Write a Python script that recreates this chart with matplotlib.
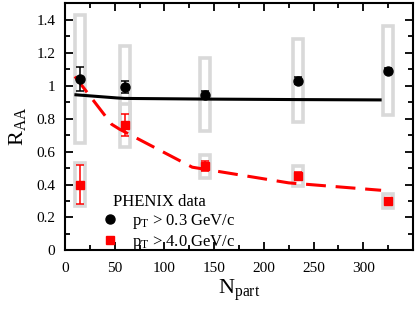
import matplotlib
matplotlib.use("Agg")
import matplotlib.pyplot as plt
from matplotlib.patches import Rectangle
from matplotlib.lines import Line2D
import numpy as np

plt.rcParams['font.family'] = ['Liberation Serif', 'DejaVu Serif']
plt.rcParams['mathtext.fontset'] = 'custom'
plt.rcParams['mathtext.rm'] = 'Liberation Serif'
plt.rcParams['mathtext.it'] = 'Liberation Serif:italic'

# --- data ---
npart = [15, 60, 141, 234, 325]
raa_low = [1.04, 0.99, 0.945, 1.03, 1.09]          # pT > 0.3 GeV/c
err_low = [0.07, 0.035, 0.02, 0.02, 0.015]
sys_low = [0.39, 0.25, 0.22, 0.25, 0.27]
raa_high = [0.40, 0.76, 0.51, 0.45, 0.30]          # pT > 4.0 GeV/c
err_high = [0.12, 0.065, 0.03, 0.025, 0.015]
sys_high = [0.13, 0.13, 0.07, 0.06, 0.045]

theory_low_x = [11, 52, 60, 141, 234, 317]
theory_low_y = [0.944, 0.925, 0.922, 0.918, 0.915, 0.913]
theory_high_x = [10, 47, 55, 128, 225, 318]
theory_high_y = [1.055, 0.765, 0.735, 0.505, 0.41, 0.365]

xticks = [0, 50, 100, 150, 200, 250, 300]
yticks = [0, 0.2, 0.4, 0.6, 0.8, 1.0, 1.2, 1.4]
ytick_labels = ['0', '0.2', '0.4', '0.6', '0.8', '1', '1.2', '1.4']

fig = plt.figure(figsize=(4.15, 3.10), dpi=100)
ax = fig.add_axes([0.1566, 0.192, 0.995 - 0.1566, 0.990 - 0.192])

box_w = 10
gray = '#d9d9d9'
for x, y, s in zip(npart, raa_low, sys_low):
    ax.add_patch(Rectangle((x - box_w / 2, y - s), box_w, 2 * s, fill=False,
                           edgecolor=gray, lw=2.6, zorder=1))
for x, y, s in zip(npart, raa_high, sys_high):
    ax.add_patch(Rectangle((x - box_w / 2, y - s), box_w, 2 * s, fill=False,
                           edgecolor=gray, lw=2.6, zorder=1))

ax.plot(theory_low_x, theory_low_y, color='black', lw=2.2, zorder=3)
ax.plot(theory_high_x, theory_high_y, color='#ff0000', lw=2.2, zorder=3,
        dashes=(6.5, 3.2))

ax.errorbar(npart, raa_low, yerr=err_low, fmt='o', color='black', ms=6.5,
            capsize=3, elinewidth=1.1, capthick=1.1, zorder=4)
ax.errorbar(npart, raa_high, yerr=err_high, fmt='s', color='#ff0000', ms=5.8,
            capsize=3, elinewidth=1.1, capthick=1.1, zorder=4)

ax.set_xlim(0, 350)
ax.set_ylim(0, 1.5)
ax.set_xticks(xticks)
ax.set_xticks(np.arange(25, 350, 50), minor=True)
ax.set_yticks(yticks)
ax.set_yticklabels(ytick_labels)
ax.set_yticks(np.arange(0.1, 1.5, 0.2), minor=True)
ax.tick_params(which='both', direction='in', top=True, right=True,
               labelsize=11, width=1.3)
ax.tick_params(which='major', length=6)
ax.tick_params(which='minor', length=3.5)
ax.tick_params(axis='y', pad=7)
ax.tick_params(axis='x', pad=8)
for sp in ax.spines.values():
    sp.set_linewidth(1.5)

ax.set_xlabel(r'N$_\mathrm{part}$', fontsize=16, labelpad=2)
ax.set_ylabel(r'R$_\mathrm{AA}$', fontsize=16, labelpad=6)

ax.text(0.138, 0.18, 'PHENIX data', transform=ax.transAxes, fontsize=12,
        ha='left', va='baseline')
handles = [Line2D([], [], ls='none', marker='o', color='black', ms=6.5),
           Line2D([], [], ls='none', marker='s', color='#ff0000', ms=5.8)]
labels = [r'$\mathrm{p}_\mathrm{T}$ > 0.3 GeV/c', r'$\mathrm{p}_\mathrm{T}$ > 4.0 GeV/c']
leg = ax.legend(handles, labels, frameon=False,
                fontsize=12, loc='lower left',
                bbox_to_anchor=(0.086, -0.045), handlelength=0.6,
                handletextpad=1.05, labelspacing=0.12, borderpad=0.1)

fig.savefig('out.png', dpi=100)
